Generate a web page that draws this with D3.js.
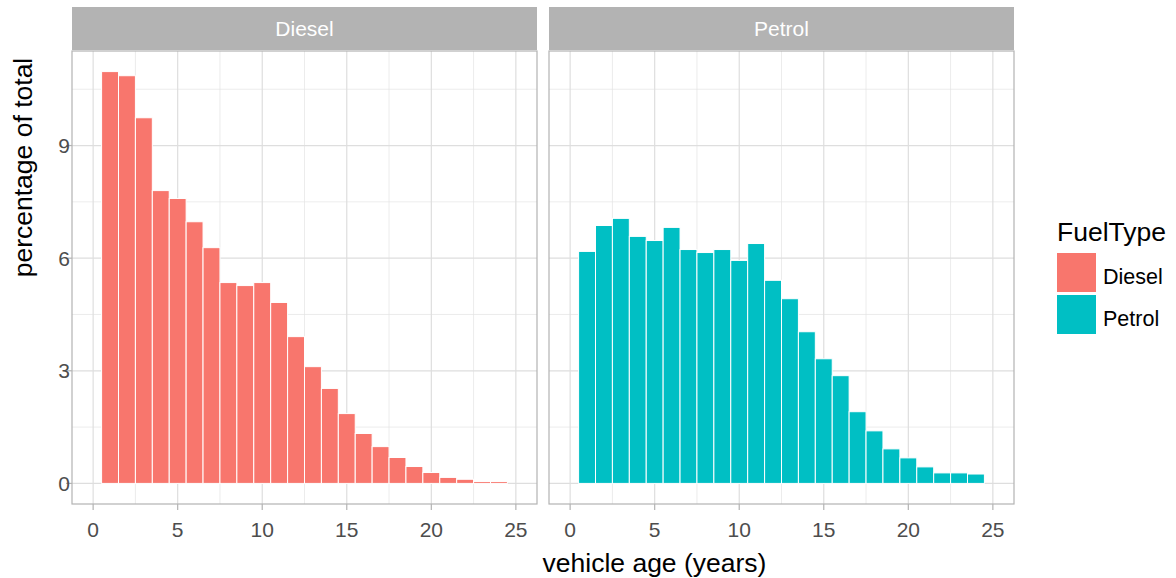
<!DOCTYPE html>
<html lang="en">
  <head>
    <meta charset="utf-8">
    <title>Vehicle age by fuel type</title>
    <script type="text/javascript" src="https://d3js.org/d3.v7.min.js"></script>
    <style>
      body { margin: 0; background: white; }
      svg text { font-family: "Liberation Sans", Arial, sans-serif; }
      .grid-major { stroke: #dedede; stroke-width: 1.2; }
      .grid-minor { stroke: #e4e4e4; stroke-width: 0.7; }
      .panel-border { fill: none; stroke: #b3b3b3; stroke-width: 1.2; }
      .strip { fill: #b3b3b3; }
      .strip-text { fill: white; font-size: 21px; }
      .tick-label { fill: #4d4d4d; font-size: 21px; }
      .tick { stroke: #b3b3b3; stroke-width: 1.2; }
      .axis-title { fill: black; font-size: 26.5px; }
      .legend-label { fill: black; font-size: 21.5px; }
    </style>
  </head>
  <body>
    <script type="text/javascript">
      // data
      var fuelTypes = ['Diesel', 'Petrol'];
      var colors = ['#F8766D', '#00BFC4'];
      var ages = [1, 2, 3, 4, 5, 6, 7, 8, 9, 10, 11, 12, 13, 14, 15, 16, 17, 18, 19, 20, 21, 22, 23, 24];
      var dieselPct = [10.97, 10.86, 9.74, 7.80, 7.59, 6.97, 6.28, 5.35, 5.27, 5.35, 4.82, 3.91,
                       3.11, 2.53, 1.86, 1.33, 0.98, 0.69, 0.45, 0.29, 0.16, 0.11, 0.05, 0.05];
      var petrolPct = [6.18, 6.87, 7.06, 6.58, 6.47, 6.82, 6.23, 6.15, 6.23, 5.94, 6.39, 5.41,
                       4.92, 4.04, 3.32, 2.87, 1.91, 1.40, 0.92, 0.68, 0.44, 0.28, 0.28, 0.25];
      var xTicks = [0, 5, 10, 15, 20, 25];
      var xMinor = [2.5, 7.5, 12.5, 17.5, 22.5];
      var yTicks = [0, 3, 6, 9];
      var yMinor = [1.5, 4.5, 7.5, 10.5];

      var width = 1176;
      var height = 578;
      var panelW = 465;
      var panelTop = 51;
      var panelBottom = 504;
      var panelLefts = [72, 549];
      var seriesValues = [dieselPct, petrolPct];

      var svg = d3.select('body').append('svg')
            .attr('width', width)
            .attr('height', height);

      var yMax = d3.max(dieselPct.concat(petrolPct));
      var y = d3.scaleLinear()
            .domain([-0.05 * yMax, 1.05 * yMax])
            .range([panelBottom, panelTop]);

      fuelTypes.forEach(function(fuel, p){
        var left = panelLefts[p];
        var x = d3.scaleLinear()
              .domain([-1.25, 26.25])
              .range([left, left + panelW]);
        var g = svg.append('g');

        // grid
        g.selectAll('.ym').data(yMinor).enter().append('line')
          .attr('class', 'grid-minor')
          .attr('x1', left).attr('x2', left + panelW)
          .attr('y1', function(d){ return y(d); })
          .attr('y2', function(d){ return y(d); });
        g.selectAll('.xm').data(xMinor).enter().append('line')
          .attr('class', 'grid-minor')
          .attr('y1', panelTop).attr('y2', panelBottom)
          .attr('x1', function(d){ return x(d); })
          .attr('x2', function(d){ return x(d); });
        g.selectAll('.yM').data(yTicks).enter().append('line')
          .attr('class', 'grid-major')
          .attr('x1', left).attr('x2', left + panelW)
          .attr('y1', function(d){ return y(d); })
          .attr('y2', function(d){ return y(d); });
        g.selectAll('.xM').data(xTicks).enter().append('line')
          .attr('class', 'grid-major')
          .attr('y1', panelTop).attr('y2', panelBottom)
          .attr('x1', function(d){ return x(d); })
          .attr('x2', function(d){ return x(d); });

        // bars
        g.selectAll('.bar').data(seriesValues[p]).enter().append('rect')
          .attr('class', 'bar')
          .attr('x', function(d, i){ return x(ages[i] - 0.5); })
          .attr('width', function(d, i){ return x(ages[i] + 0.5) - x(ages[i] - 0.5); })
          .attr('y', function(d){ return y(d); })
          .attr('height', function(d){ return y(0) - y(d); })
          .style('fill', colors[p])
          .style('stroke', 'white')
          .style('stroke-width', 1);

        g.append('rect')
          .attr('class', 'panel-border')
          .attr('x', left).attr('y', panelTop)
          .attr('width', panelW).attr('height', panelBottom - panelTop);

        // strip
        g.append('rect')
          .attr('class', 'strip')
          .attr('x', left).attr('y', 7)
          .attr('width', panelW).attr('height', 43);
        g.append('text')
          .attr('class', 'strip-text')
          .attr('x', left + panelW / 2).attr('y', 36)
          .attr('text-anchor', 'middle')
          .text(fuel);

        // x axis
        g.selectAll('.xt').data(xTicks).enter().append('line')
          .attr('class', 'tick')
          .attr('y1', panelBottom).attr('y2', panelBottom + 6)
          .attr('x1', function(d){ return x(d); })
          .attr('x2', function(d){ return x(d); });
        g.selectAll('.xl').data(xTicks).enter().append('text')
          .attr('class', 'tick-label')
          .attr('x', function(d){ return x(d); })
          .attr('y', 537)
          .attr('text-anchor', 'middle')
          .text(function(d){ return d; });
      });

      // y axis (left panel only)
      svg.selectAll('.yt').data(yTicks).enter().append('line')
        .attr('class', 'tick')
        .attr('x1', panelLefts[0] - 6).attr('x2', panelLefts[0])
        .attr('y1', function(d){ return y(d); })
        .attr('y2', function(d){ return y(d); });
      svg.selectAll('.yl').data(yTicks).enter().append('text')
        .attr('class', 'tick-label')
        .attr('x', 70)
        .attr('y', function(d){ return y(d) + 7.5; })
        .attr('text-anchor', 'end')
        .text(function(d){ return d; });

      // axis titles
      svg.append('text')
        .attr('class', 'axis-title')
        .attr('x', 654.5).attr('y', 571.5)
        .attr('text-anchor', 'middle')
        .text('vehicle age (years)');
      svg.append('text')
        .attr('class', 'axis-title')
        .attr('transform', 'translate(32,167.5) rotate(-90)')
        .attr('text-anchor', 'middle')
        .text('percentage of total');

      // legend
      svg.append('text')
        .attr('class', 'axis-title')
        .attr('x', 1057).attr('y', 241)
        .text('FuelType');
      var legend = svg.selectAll('.legend').data(fuelTypes).enter().append('g')
        .attr('class', 'legend')
        .attr('transform', function(d, i){ return 'translate(1057,' + (253 + i * 42) + ')'; });
      legend.append('rect')
        .attr('width', 39).attr('height', 39)
        .style('fill', function(d, i){ return colors[i]; });
      legend.append('text')
        .attr('class', 'legend-label')
        .attr('x', 46).attr('y', 31)
        .text(function(d){ return d; });
    </script>
  </body>
</html>
